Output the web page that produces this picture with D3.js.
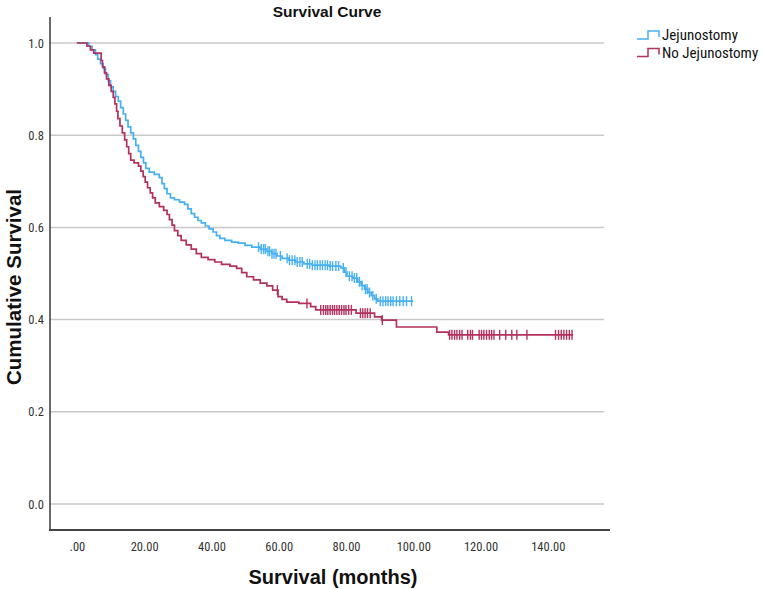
<!DOCTYPE html>
<html>
<head>
<meta charset="utf-8">
<script src="https://cdn.jsdelivr.net/npm/d3@7"></script>
<style>
  html, body { margin: 0; padding: 0; background: #fff; }
  svg { display: block; }
</style>
</head>
<body>
<svg id="chart" width="762" height="589"></svg>
<script>
// ---------- DATA ----------
const groups = ["Jejunostomy", "No Jejunostomy"];

// Jejunostomy: event times (months) and survival after each step
const jejTimes = [0, 3.5, 4.5, 5.5, 6.2, 7.0, 7.8, 8.5, 9.3, 10.0, 10.8, 11.5, 12.3, 13.0, 13.8, 14.5, 15.2, 16.0, 16.8, 17.5, 18.3, 19.0, 19.8, 20.5, 21.5, 23.0, 24.5, 25.3, 26.0, 26.8, 27.8, 29.0, 30.5, 32.0, 33.0, 34.0, 35.0, 36.0, 37.0, 38.2, 39.3, 40.5, 41.5, 42.5, 44.0, 46.0, 48.0, 50.0, 52.0, 54.5, 56.5, 58.0, 59.5, 61.0, 63.0, 65.0, 67.5, 70.0, 75.0, 78.5, 79.5, 80.3, 82.0, 83.5, 84.5, 85.5, 86.5, 87.5, 88.5, 89.5, 100.0];
const jejSurv  = [1.000, 0.993, 0.985, 0.975, 0.965, 0.955, 0.945, 0.932, 0.918, 0.905, 0.895, 0.884, 0.874, 0.860, 0.846, 0.832, 0.818, 0.805, 0.792, 0.778, 0.765, 0.752, 0.740, 0.728, 0.720, 0.715, 0.708, 0.695, 0.684, 0.673, 0.664, 0.660, 0.655, 0.650, 0.640, 0.630, 0.622, 0.615, 0.610, 0.603, 0.597, 0.590, 0.582, 0.576, 0.572, 0.568, 0.566, 0.561, 0.557, 0.553, 0.548, 0.543, 0.538, 0.533, 0.529, 0.525, 0.521, 0.518, 0.516, 0.512, 0.503, 0.494, 0.490, 0.482, 0.474, 0.466, 0.459, 0.452, 0.445, 0.440, 0.440];
const jejCensored = [54, 54.8, 55.5, 56, 56.8, 57.3, 58, 58.6, 59.2, 60.5, 62.5, 63.2, 64, 64.8, 65.5, 66.3, 67, 68.5, 69.2, 70, 70.8, 71.5, 72.3, 73, 73.8, 74.5, 75.3, 76, 77, 77.8, 79.2, 80, 81, 81.8, 82.5, 83.2, 84, 84.8, 85.8, 86.3, 87, 88, 89, 90.2, 91, 91.8, 92.5, 93.3, 94, 95, 96, 97, 98, 99.5];

// No Jejunostomy
const noJejTimes = [0, 3.0, 4.0, 5.0, 7.2, 7.6, 8.2, 8.8, 9.5, 10.2, 10.8, 11.3, 11.8, 12.2, 12.8, 13.5, 14.2, 14.8, 15.4, 16.0, 17.0, 18.3, 19.0, 19.7, 20.3, 21.0, 21.8, 22.5, 23.3, 24.5, 25.8, 26.8, 27.5, 28.3, 29.0, 30.0, 31.0, 32.5, 34.0, 35.5, 37.0, 39.0, 41.0, 43.0, 45.5, 47.5, 49.0, 50.5, 52.5, 54.5, 56.5, 58.2, 59.8, 61.0, 62.4, 66.0, 69.5, 71.0, 83.0, 88.5, 90.6, 95.0, 107.0, 110.5, 147.5];
const noJejSurv  = [1.000, 0.993, 0.985, 0.978, 0.962, 0.948, 0.935, 0.922, 0.908, 0.895, 0.882, 0.868, 0.852, 0.836, 0.820, 0.805, 0.790, 0.775, 0.760, 0.746, 0.740, 0.733, 0.722, 0.710, 0.698, 0.686, 0.675, 0.664, 0.653, 0.645, 0.637, 0.628, 0.617, 0.605, 0.593, 0.582, 0.572, 0.562, 0.553, 0.543, 0.535, 0.530, 0.525, 0.520, 0.516, 0.511, 0.502, 0.493, 0.486, 0.479, 0.473, 0.464, 0.450, 0.444, 0.438, 0.435, 0.428, 0.421, 0.414, 0.406, 0.399, 0.384, 0.373, 0.367, 0.367];
const noJejCensored = [59.6, 68.4, 72.5, 73.3, 74, 74.6, 75.3, 76, 76.6, 77.3, 78, 78.7, 79.4, 80, 80.8, 81.6, 84.3, 85, 85.7, 86.4, 87.2, 90.8, 110.8, 111.5, 112.3, 113, 113.8, 114.5, 116.2, 117, 117.6, 119.6, 120.3, 121, 121.8, 122.6, 123.3, 124, 125.7, 127.5, 129.3, 130.8, 133.8, 142.3, 143.2, 144, 144.8, 145.6, 146.4, 147.2];

const xTicks = [0, 20, 40, 60, 80, 100, 120, 140];
const xTickLabels = [".00", "20.00", "40.00", "60.00", "80.00", "100.00", "120.00", "140.00"];
const yTicks = [0, 0.2, 0.4, 0.6, 0.8, 1.0];
const yTickLabels = ["0.0", "0.2", "0.4", "0.6", "0.8", "1.0"];

const colors = ["#45b0f2", "#b3305f"];

// ---------- CHART ----------
const svg = d3.select("#chart");
const narrow = "'Liberation Sans Narrow', 'Arial Narrow', 'Roboto Condensed', 'DejaVu Sans Condensed', sans-serif";
const bold = "'Liberation Sans', Arial, Helvetica, sans-serif";

const x = d3.scaleLinear().domain([-8, 158.5]).range([50, 610]);
const y = d3.scaleLinear().domain([0, 1]).range([504, 43]);

// gridlines
svg.append("g").selectAll("line").data(yTicks).join("line")
  .attr("x1", 50).attr("x2", 604)
  .attr("y1", d => y(d)).attr("y2", d => y(d))
  .attr("stroke", "#c9c9c9").attr("stroke-width", 1.5);

// axes
const yAxis = d3.axisLeft(y).tickValues(yTicks).tickSize(0).tickPadding(6)
  .tickFormat((d, i) => yTickLabels[i]);
const gy = svg.append("g").attr("transform", "translate(50,0)").call(yAxis);
gy.select(".domain").remove();
gy.selectAll("text").attr("font-family", narrow).attr("font-size", 12.5).attr("fill", "#333");

const xAxis = d3.axisBottom(x).tickValues(xTicks).tickSize(0).tickPadding(12)
  .tickFormat((d, i) => xTickLabels[i]);
const gx = svg.append("g").attr("transform", "translate(0,530)").call(xAxis);
gx.select(".domain").remove();
gx.selectAll("text").attr("font-family", narrow).attr("font-size", 12.5).attr("fill", "#333");

// axis lines
svg.append("line").attr("x1", 50).attr("x2", 50).attr("y1", 17).attr("y2", 531)
  .attr("stroke", "#444").attr("stroke-width", 1.6);
svg.append("line").attr("x1", 49).attr("x2", 610).attr("y1", 530).attr("y2", 530)
  .attr("stroke", "#444").attr("stroke-width", 1.8);

// curves
const series = [
  { name: groups[0], times: jejTimes, surv: jejSurv, cens: jejCensored, color: colors[0] },
  { name: groups[1], times: noJejTimes, surv: noJejSurv, cens: noJejCensored, color: colors[1] }
];

const line = d3.line().x(d => x(d[0])).y(d => y(d[1])).curve(d3.curveStepAfter);
const bis = d3.bisector(d => d).right;

series.forEach(s => {
  const pts = s.times.map((t, i) => [t, s.surv[i]]);
  svg.append("path").datum(pts)
    .attr("d", line)
    .attr("fill", "none")
    .attr("stroke", s.color)
    .attr("stroke-width", 1.7);
  const censPts = s.cens.map(t => {
    const idx = Math.max(0, bis(s.times, t) - 1);
    return [t, s.surv[idx]];
  });
  svg.append("g").selectAll("line").data(censPts).join("line")
    .attr("x1", d => x(d[0])).attr("x2", d => x(d[0]))
    .attr("y1", d => y(d[1]) - 5).attr("y2", d => y(d[1]) + 5)
    .attr("stroke", s.color).attr("stroke-width", 1.4);
});

// title
svg.append("text").attr("x", 327).attr("y", 17).attr("text-anchor", "middle")
  .attr("font-family", bold).attr("font-weight", "bold").attr("font-size", 15.5)
  .attr("fill", "#111").text("Survival Curve");

// axis titles
svg.append("text").attr("x", 333).attr("y", 584).attr("text-anchor", "middle")
  .attr("font-family", bold).attr("font-weight", "bold").attr("font-size", 20)
  .attr("fill", "#111").text("Survival (months)");
svg.append("text")
  .attr("transform", "translate(21,287) rotate(-90)")
  .attr("text-anchor", "middle")
  .attr("font-family", bold).attr("font-weight", "bold").attr("font-size", 20.5)
  .attr("fill", "#111").text("Cumulative Survival");

// legend
const lg = svg.append("g");
series.forEach((s, i) => {
  const cy = 35 + i * 17.5;
  lg.append("path")
    .attr("d", `M637,${cy + 4}H648V${cy - 4}H659V${cy + 2}`)
    .attr("fill", "none").attr("stroke", s.color).attr("stroke-width", 1.5);
  lg.append("text").attr("x", 662).attr("y", cy + 5)
    .attr("font-family", narrow).attr("font-size", 15).attr("fill", "#111")
    .text(s.name);
});
</script>
</body>
</html>
